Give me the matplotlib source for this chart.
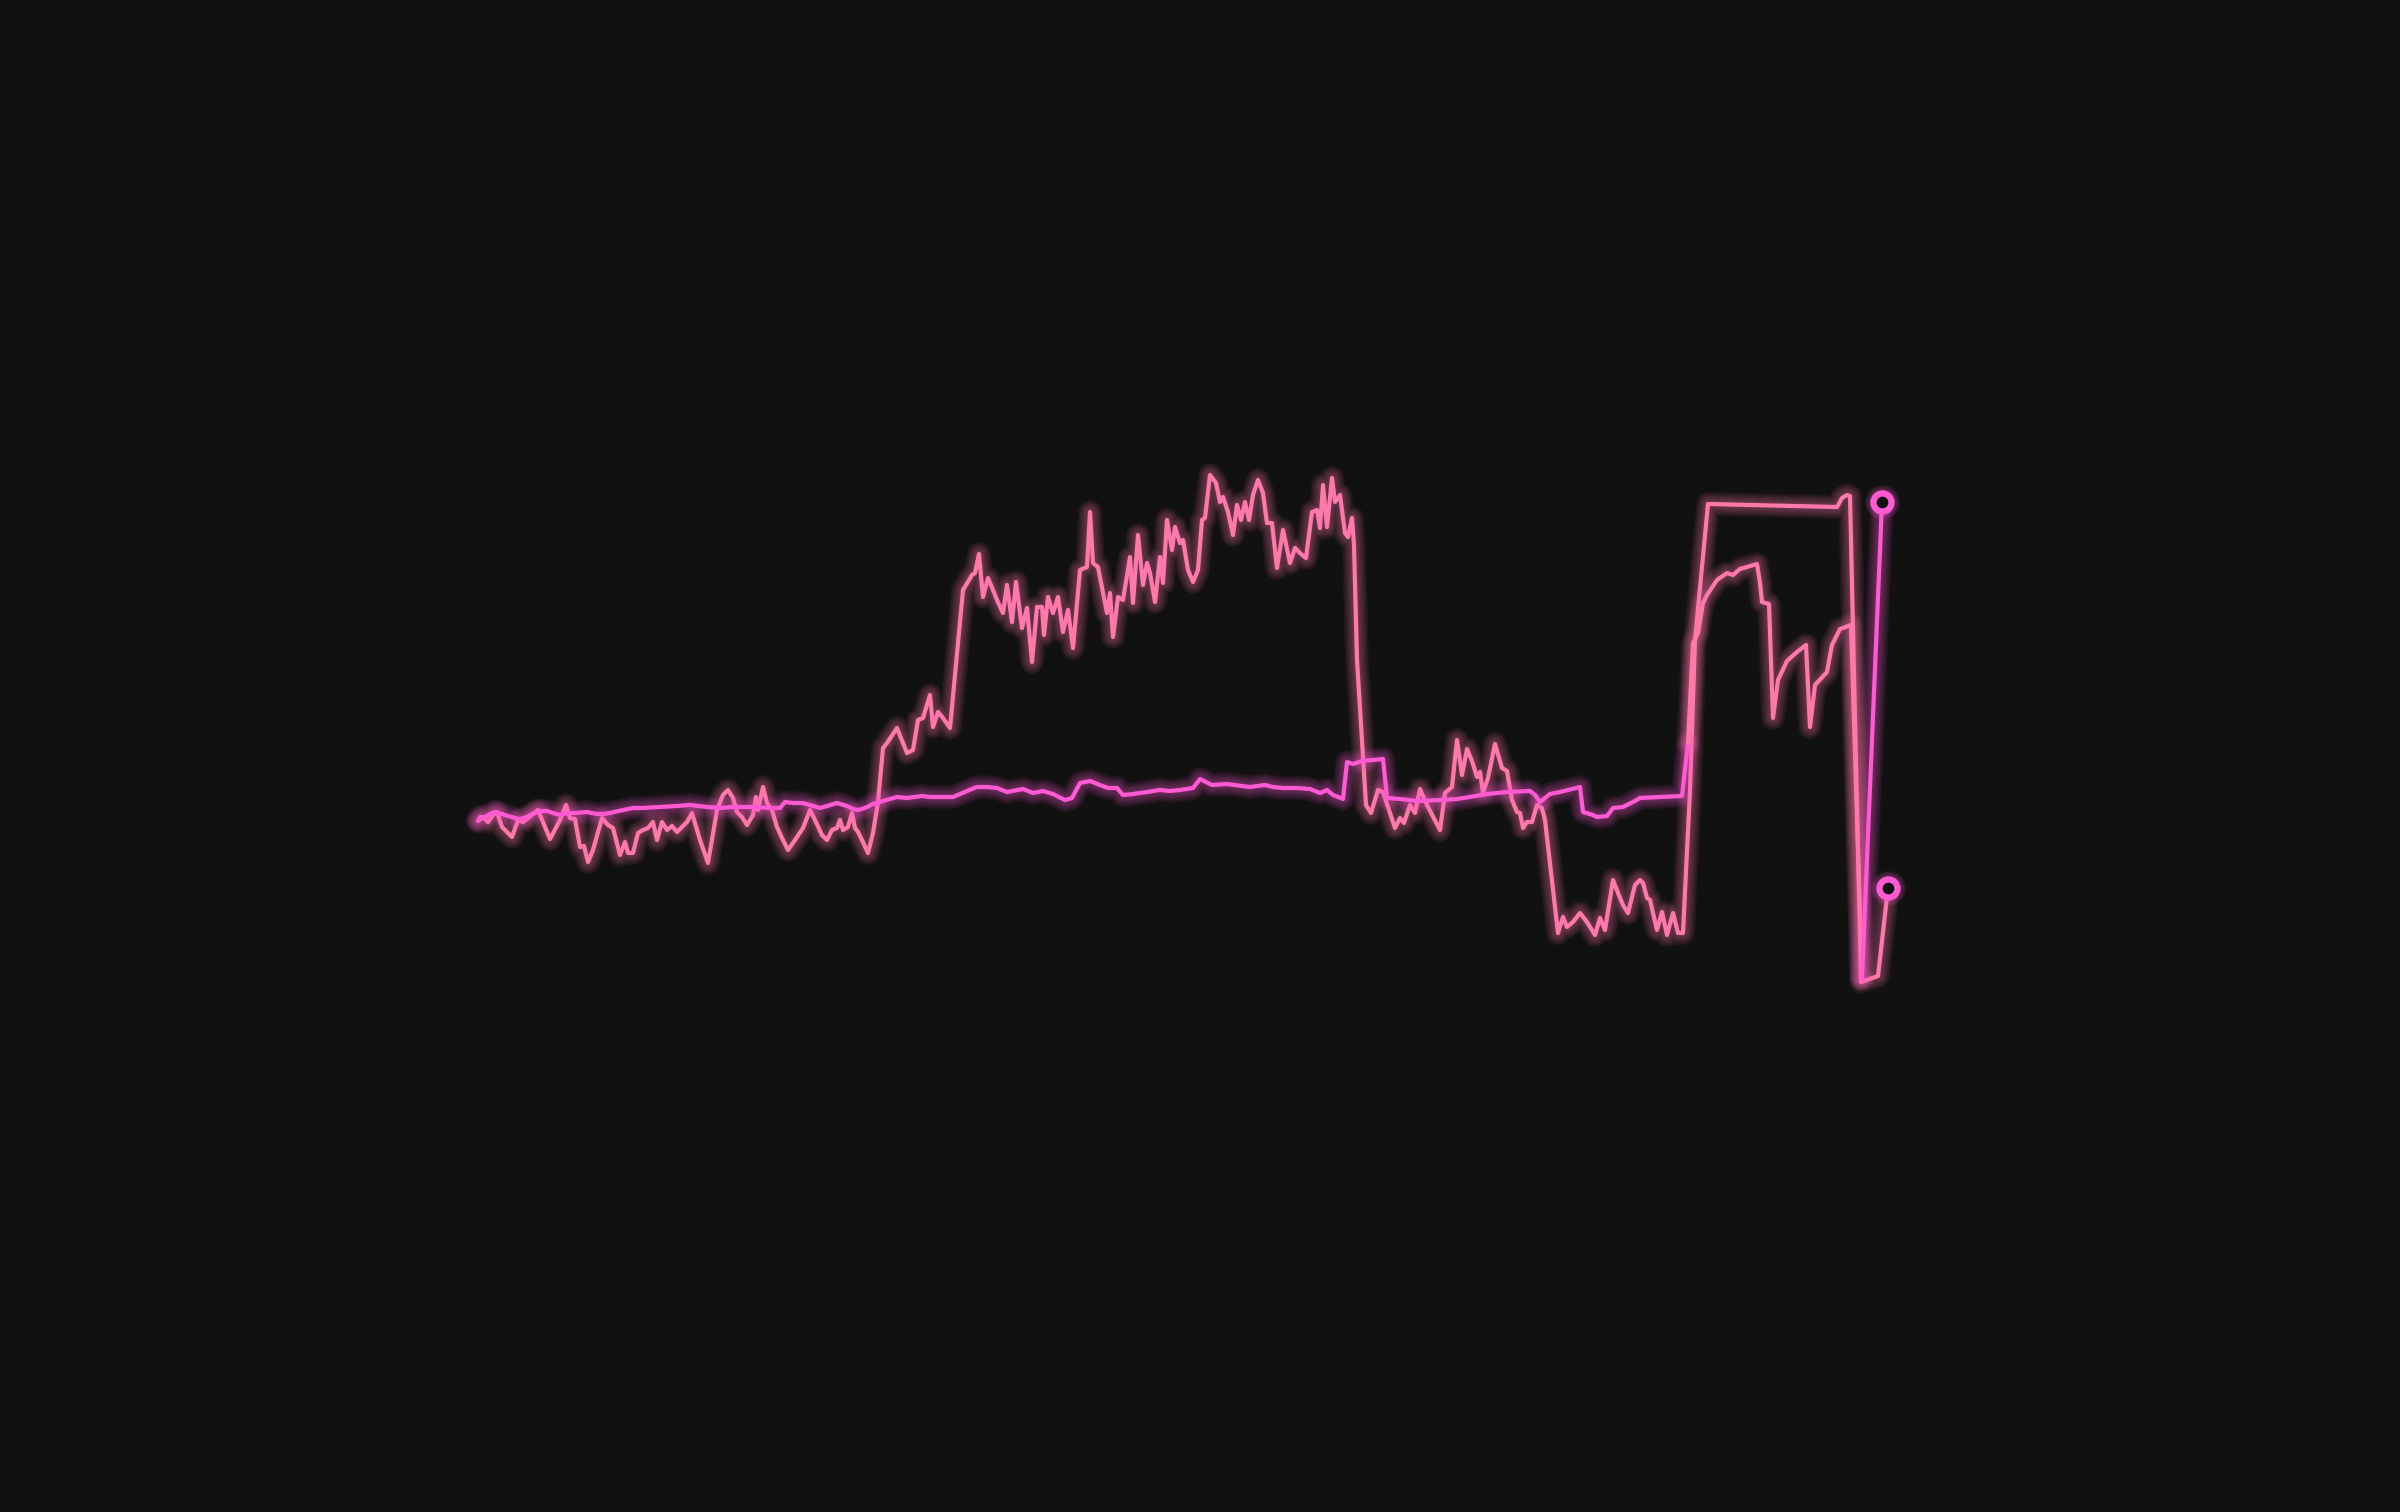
import numpy as np
import matplotlib.pyplot as plt

BG = '#111111'
PINK = '#ff78aa'
MAGENTA = '#ff5ad4'

# step index and change (bps) for the volatile series
a_t = [0, 5, 10, 15, 19, 24, 34, 40, 45, 60, 72, 82, 88, 92, 97, 102, 106, 110, 115, 124,
       130, 135, 142, 147, 150, 155, 160, 165, 170, 175, 179, 184, 189, 194, 199, 204, 209, 214, 222, 230,
       239, 245, 250, 255, 259, 264, 269, 275, 278, 280, 285, 289, 294, 299, 304, 310, 317, 325, 332, 337,
       344, 349, 354, 359, 362, 365, 370, 374, 377, 380, 384, 390, 395, 400, 405, 409, 419, 429, 435, 440,
       445, 452, 455, 460, 465, 472, 485, 494, 497, 501, 505, 510, 515, 519, 525, 529, 534, 538, 544, 549,
       554, 559, 564, 566, 570, 575, 580, 585, 590, 595, 602, 609, 612, 615, 620, 629, 632, 635, 640, 645,
       652, 655, 660, 665, 669, 672, 677, 682, 685, 689, 694, 697, 702, 705, 710, 715, 720, 724, 727, 732,
       738, 742, 745, 750, 755, 759, 763, 767, 771, 775, 780, 785, 789, 794, 799, 805, 812, 817, 822, 828,
       834, 839, 842, 845, 849, 854, 857, 862, 867, 870, 874, 876, 879, 884, 888, 893, 900, 905, 910, 917,
       922, 926, 932, 937, 942, 949, 962, 967, 974, 979, 984, 989, 994, 999, 1002, 1005, 1010, 1017, 1024, 1029,
       1034, 1039, 1042, 1045, 1049, 1054, 1059, 1064, 1067, 1080, 1085, 1089, 1095, 1102, 1109, 1117, 1122, 1127, 1135, 1140,
       1145, 1150, 1157, 1162, 1165, 1169, 1172, 1179, 1184, 1189, 1195, 1200, 1205, 1212, 1217, 1230, 1359, 1364, 1369, 1372,
       1383, 1400, 1410]
a_v = [-1, 3, -2, 5, 8, -7, -17, 0, -2, 10, -19, 0, 15, 2, 1, -27, -26, -42, -30, 2,
       -5, -8, -35, -22, -33, -33, -13, -10, -8, -2, -20, -2, -10, -6, -12, -7, -2, 7, -20, -43,
       10, 25, 30, 22, 8, 3, -5, 5, 23, 10, 33, 17, 10, -7, -18, -30, -20, -8, 10, 0,
       -15, -20, -10, -8, 0, -10, -7, 7, -8, -12, -20, -33, -13, 18, 72, 77, 92, 67, 70, 100,
       102, 125, 93, 108, 102, 92, 230, 245, 247, 266, 223, 242, 230, 220, 207, 235, 198, 238, 192, 212,
       158, 213, 213, 185, 223, 207, 223, 188, 210, 172, 250, 253, 308, 257, 253, 207, 227, 183, 223, 220,
       263, 217, 285, 235, 257, 247, 218, 263, 237, 300, 270, 293, 277, 280, 250, 238, 250, 300, 302, 345,
       337, 318, 323, 308, 285, 315, 300, 318, 300, 325, 340, 327, 297, 297, 252, 290, 257, 272, 267, 262,
       308, 310, 292, 335, 293, 342, 318, 325, 287, 283, 302, 275, 160, 80, 15, 7, 30, 28, 13, -8,
       2, -3, 15, 7, 31, 15, -10, 27, 33, 80, 45, 71, 59, 43, 48, 27, 42, 76, 52, 49,
       20, 8, 7, -8, -2, -2, 15, 12, 0, -113, -97, -107, -102, -93, -102, -115, -98, -110, -60, -73,
       -85, -93, -65, -60, -63, -78, -80, -110, -92, -115, -93, -113, -113, 30, 180, 316, 313, 322, 325, 324,
       -162, -156, -68]

# step index and change (bps) for the smoother series
b_t = [0, 2, 7, 12, 17, 24, 30, 37, 42, 49, 54, 62, 69, 75, 82, 89, 97, 109, 119, 125,
       132, 145, 155, 165, 182, 199, 212, 229, 242, 255, 275, 292, 302, 307, 315, 325, 335, 342, 349, 359,
       369, 375, 380, 387, 395, 405, 419, 429, 444, 452, 475, 489, 499, 509, 519, 529, 545, 555, 565, 575,
       587, 594, 602, 612, 622, 630, 639, 645, 655, 669, 682, 692, 702, 715, 722, 734, 749, 764, 772, 787,
       795, 805, 819, 832, 842, 849, 855, 865, 869, 875, 884, 905, 909, 922, 939, 962, 979, 992, 1009, 1029,
       1052, 1057, 1062, 1072, 1082, 1102, 1105, 1115, 1119, 1129, 1135, 1145, 1155, 1162, 1182, 1204, 1210, 1215, 1220, 1225,
       1229, 1239, 1249, 1255, 1262, 1269, 1279, 1282, 1284, 1291, 1295, 1300, 1309, 1319, 1328, 1332, 1337, 1349, 1354, 1362,
       1373, 1384, 1404]
b_v = [-1, 3, 3, 6, 8, 6, 4, 2, 1, 3, 6, 9, 9, 7, 5, 7, 7, 8, 6, 6,
       7, 10, 12, 12, 13, 14, 15, 13, 12, 13, 13, 12, 12, 18, 17, 17, 14, 12, 14, 17,
       14, 11, 10, 12, 16, 19, 23, 22, 24, 23, 23, 29, 33, 33, 32, 28, 31, 27, 29, 26,
       20, 22, 37, 39, 35, 32, 32, 25, 26, 28, 30, 29, 30, 32, 41, 35, 36, 34, 33, 35,
       33, 32, 32, 31, 27, 30, 25, 21, 58, 56, 59, 61, 22, 21, 19, 20, 21, 23, 26, 28,
       29, 25, 18, 26, 28, 33, 8, 5, 3, 4, 12, 13, 18, 22, 23, 24, 77, 177, 187, 217,
       225, 240, 247, 245, 251, 253, 256, 237, 218, 216, 102, 140, 159, 168, 175, 93, 135, 148, 175, 191,
       195, -158, 318]

B_HIGH = 70  # segments of the smooth series starting above this level show in pink


def neon(ax, x, y, color, lw=3.0, z=2):
    for k in range(8, 0, -1):
        ax.plot(x, y, color=color, lw=lw + k * 1.8, alpha=0.055,
                solid_capstyle='round', solid_joinstyle='round', zorder=z)
    ax.plot(x, y, color=color, lw=lw, solid_capstyle='round',
            solid_joinstyle='round', zorder=z + 0.5)


fig = plt.figure(figsize=(24, 15.12), dpi=100, facecolor=BG)
ax = fig.add_axes([0, 0, 1, 1])
ax.set_facecolor(BG)
ax.axis('off')
ax.set_xlim(-478, 1922)
ax.set_ylim(-692, 820)

neon(ax, a_t, a_v, PINK, z=2)

bt = np.array(b_t)
bv = np.array(b_v)
seg_pink = bv[:-1] > B_HIGH
start = 0
for i in range(1, len(seg_pink) + 1):
    if i == len(seg_pink) or seg_pink[i] != seg_pink[start]:
        col = PINK if seg_pink[start] else MAGENTA
        neon(ax, bt[start:i + 1], bv[start:i + 1], col, z=3)
        start = i

# end markers
for t, v in [(a_t[-1], a_v[-1]), (b_t[-1], b_v[-1])]:
    for k in range(5, 0, -1):
        ax.plot(t, v, 'o', ms=13 + k * 1.6, mfc='none', mec=MAGENTA, mew=4.5, alpha=0.07, zorder=6)
    ax.plot(t, v, 'o', ms=13, mfc=BG, mec=MAGENTA, mew=4.5, zorder=7)

fig.savefig('out.png', dpi=100, facecolor=BG)
